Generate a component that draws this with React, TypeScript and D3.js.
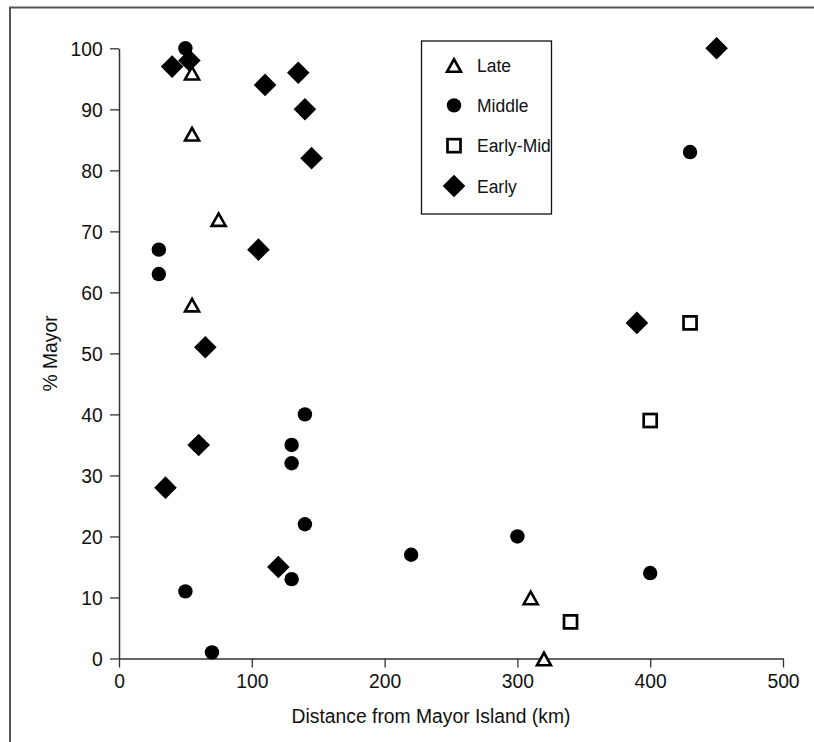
import React, { useEffect, useRef } from "react";
import * as d3 from "d3";

const lateX = [55, 55, 75, 55, 310, 320];
const lateY = [96, 86, 72, 58, 10, 0];
const middleX = [50, 30, 30, 140, 130, 130, 140, 130, 50, 70, 220, 300, 400, 430];
const middleY = [100, 67, 63, 40, 35, 32, 22, 13, 11, 1, 17, 20, 14, 83];
const earlyMidX = [430, 400, 340];
const earlyMidY = [55, 39, 6];
const earlyX = [40, 53, 110, 135, 140, 145, 105, 65, 60, 35, 120, 390, 450];
const earlyY = [97, 98, 94, 96, 90, 82, 67, 51, 35, 28, 15, 55, 100];

const xTicks = [0, 100, 200, 300, 400, 500];
const yTicks = [0, 10, 20, 30, 40, 50, 60, 70, 80, 90, 100];
const legendLabels = ["Late", "Middle", "Early-Mid", "Early"];

const W = 814;
const H = 742;
const FONT = "'Liberation Sans', Arial, sans-serif";
const SX = 0.92;

export default function App() {
  const ref = useRef<SVGSVGElement | null>(null);

  useEffect(() => {
    const svg = d3.select(ref.current);
    svg.selectAll("*").remove();

    const x = d3.scaleLinear().domain([0, 500]).range([119, 783]);
    const y = d3.scaleLinear().domain([0, 100]).range([658.5, 48.3]);

    // outer frame (only top and left edges are inside the picture)
    svg.append("path")
      .attr("d", `M10,${H}L10,7.5L${W},7.5`)
      .attr("fill", "none").attr("stroke", "#555").attr("stroke-width", 2);

    // axes
    const xAxis = d3.axisBottom(x).tickValues(xTicks).tickSize(9).tickPadding(6).tickSizeOuter(0);
    const gx = svg.append("g").attr("transform", `translate(0,${y(0)})`).call(xAxis);
    const yAxis = d3.axisLeft(y).tickValues(yTicks).tickSize(9).tickPadding(8.7).tickSizeOuter(0);
    const gy = svg.append("g").attr("transform", `translate(${x(0)},0)`).call(yAxis);

    [gx, gy].forEach((g) => {
      g.select(".domain").attr("stroke", "#333").attr("stroke-width", 1.5);
      g.selectAll(".tick line").attr("stroke", "#333").attr("stroke-width", 1.3);
      g.selectAll(".tick text")
        .attr("font-family", FONT)
        .attr("font-size", 21)
        .attr("fill", "#111")
        .attr("transform", `scale(${SX},1)`);
    });
    gx.selectAll(".tick text").attr("dy", "0.71em");
    gy.selectAll(".tick text").attr("dy", "0.34em");

    // axis titles
    svg.append("text")
      .attr("transform", `translate(431,723) scale(${SX},1)`)
      .attr("text-anchor", "middle")
      .attr("font-family", FONT).attr("font-size", 21).attr("fill", "#111")
      .text("Distance from Mayor Island (km)");
    svg.append("text")
      .attr("transform", `translate(57,${(y(0) + y(100)) / 2}) rotate(-90) scale(${SX},1)`)
      .attr("text-anchor", "middle")
      .attr("font-family", FONT).attr("font-size", 21).attr("fill", "#111")
      .text("% Mayor");

    const diamond = (s: number) => `M0,${-s}L${s},0L0,${s}L${-s},0Z`;
    const tri = (w: number, h: number) => `M0,${-h / 2}L${w / 2},${h / 2}L${-w / 2},${h / 2}Z`;

    const drawEarly = (g: any, cx: number, cy: number) =>
      g.append("path").attr("d", diamond(11.3)).attr("transform", `translate(${cx},${cy})`).attr("fill", "#000");
    const drawEarlyMid = (g: any, cx: number, cy: number) =>
      g.append("rect").attr("x", cx - 6.5).attr("y", cy - 6.5).attr("width", 13).attr("height", 13)
        .attr("fill", "#fff").attr("stroke", "#000").attr("stroke-width", 2.7);
    const drawMiddle = (g: any, cx: number, cy: number) =>
      g.append("circle").attr("cx", cx).attr("cy", cy).attr("r", 7.2).attr("fill", "#000");
    const drawLate = (g: any, cx: number, cy: number) =>
      g.append("path").attr("d", tri(14, 12.5)).attr("transform", `translate(${cx},${cy + 0.5})`)
        .attr("fill", "#fff").attr("stroke", "#000").attr("stroke-width", 2.6).attr("stroke-linejoin", "miter");

    const pts = svg.append("g");
    earlyX.forEach((v, i) => drawEarly(pts, x(v), y(earlyY[i])));
    earlyMidX.forEach((v, i) => drawEarlyMid(pts, x(v), y(earlyMidY[i])));
    middleX.forEach((v, i) => drawMiddle(pts, x(v), y(middleY[i])));
    lateX.forEach((v, i) => drawLate(pts, x(v), y(lateY[i])));

    // legend
    const lg = svg.append("g");
    lg.append("rect").attr("x", 421.5).attr("y", 41).attr("width", 130).attr("height", 173)
      .attr("fill", "#fff").attr("stroke", "#111").attr("stroke-width", 1.3);
    const drawers = [drawLate, drawMiddle, drawEarlyMid, drawEarly];
    const ly = d3.scalePoint().domain(legendLabels).range([65, 186]);
    legendLabels.forEach((lab, i) => {
      const cy = ly(lab) as number;
      drawers[i](lg, 454, cy);
      lg.append("text").attr("transform", `translate(477,${cy}) scale(${SX},1)`).attr("dy", "0.35em")
        .attr("font-family", FONT).attr("font-size", 19).attr("fill", "#111")
        .text(lab);
    });
  }, []);

  return (
    <svg
      ref={ref}
      width={W}
      height={H}
      style={{ position: "absolute", left: 0, top: 0, background: "#fff", overflow: "hidden" }}
    />
  );
}
